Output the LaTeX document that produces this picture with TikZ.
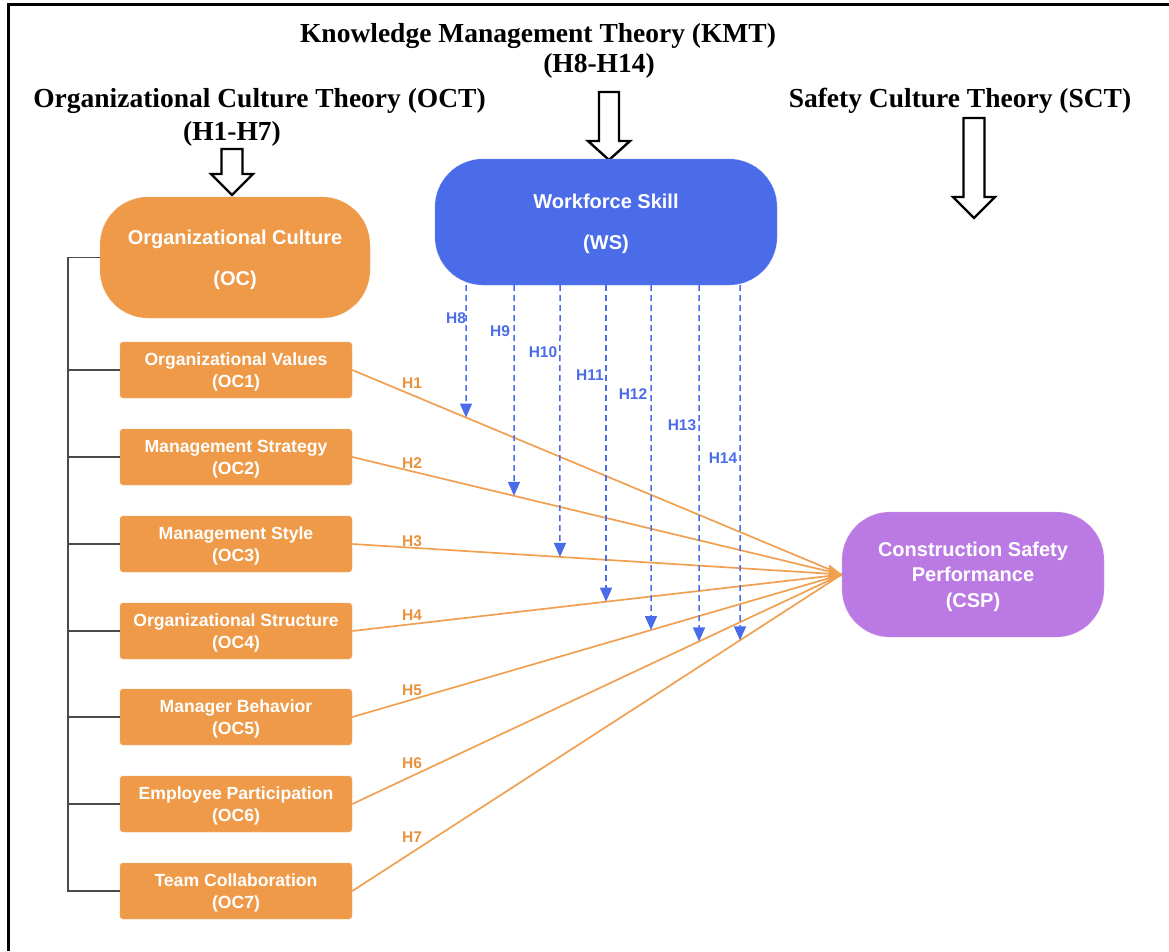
\documentclass[tikz,border=0pt]{standalone}
\usepackage{fontspec}
\setmainfont{Liberation Serif}
\newfontfamily\arialf{Liberation Sans}
\usetikzlibrary{arrows.meta,calc}
\definecolor{ocor}{HTML}{EE9A48}
\definecolor{wsblue}{HTML}{4A6CE9}
\definecolor{csppur}{HTML}{BB7AE3}
\definecolor{linor}{HTML}{F0A050}
\definecolor{hor}{HTML}{E8923E}
\definecolor{treegray}{HTML}{4A4A4A}
\begin{document}
\begin{tikzpicture}[x=1pt,y=-1pt,
  bignode/.style={rounded corners=48pt, fill=#1, draw=#1!70!white, densely dotted, line width=0.6pt,
    text=white, font={\arialf\bfseries\fontsize{20}{41}\selectfont}, align=center, inner sep=0pt, text depth=-7pt},
  smallbox/.style={rounded corners=3pt, fill=ocor, draw=ocor!70!white, densely dotted, line width=0.6pt,
    minimum width=232pt, minimum height=56pt, text=white, text depth=-3.5pt,
    font={\arialf\bfseries\fontsize{17.6}{22}\selectfont}, align=center, inner sep=0pt},
  titletxt/.style={font={\bfseries\fontsize{27.5}{32}\selectfont}, anchor=base, inner sep=0pt},
  hlabel/.style={text=hor, font={\arialf\bfseries\fontsize{15.5}{18}\selectfont}, inner sep=0pt},
  wlabel/.style={text=wsblue, font={\arialf\bfseries\fontsize{15.5}{18}\selectfont}, inner sep=0pt},
  hline/.style={draw=linor, line width=1.7pt},
  wline/.style={draw=wsblue, line width=1.5pt, dash pattern=on 6pt off 4pt, -{Triangle[length=14pt,width=12pt]}},
  treeline/.style={draw=treegray, line width=1.8pt},
  blockarrow/.style={draw=black, fill=white, line width=2.4pt, line join=miter}
]
\useasboundingbox (0,0) rectangle (1169,951);
% frame
\draw[line width=3pt] (8,951) -- (8,4) -- (1169,4);

% titles
\node[titletxt] (kmt1) at (538,42) {Knowledge Management Theory (KMT)};
\node[titletxt] (kmt2) at (599,72) {(H8-H14)};
\node[titletxt] (oct1) at (259.5,107) {Organizational Culture Theory (OCT)};
\node[titletxt] (oct2) at (232,140) {(H1-H7)};
\node[titletxt] (sct) at (960,107) {Safety Culture Theory (SCT)};

% block arrows
\draw[blockarrow] (221.5,149) -- (242.5,149) -- (242.5,174) -- (253,174) -- (232,195) -- (211,174) -- (221.5,174) -- cycle;
\draw[blockarrow] (599,92) -- (619,92) -- (619,141) -- (630,141) -- (609,160) -- (588,141) -- (599,141) -- cycle;
\draw[blockarrow] (963.5,118) -- (984.5,118) -- (984.5,197) -- (995,197) -- (974,218) -- (953,197) -- (963.5,197) -- cycle;

% main nodes
\node[bignode=ocor, minimum width=270pt, minimum height=121pt] (oc) at (235,257.5) {Organizational Culture\\(OC)};
\node[bignode=wsblue, minimum width=342pt, minimum height=126pt] (ws) at (606,222) {Workforce Skill\\(WS)};
\node[bignode=csppur, minimum width=262pt, minimum height=125pt, text depth=-9.5pt, font={\arialf\bfseries\fontsize{20}{25.5}\selectfont}] (csp) at (973,574.5) {Construction Safety\\Performance\\(CSP)};

% sub boxes
\node[smallbox] (oc1) at (236,370) {Organizational Values\\(OC1)};
\node[smallbox] (oc2) at (236,457) {Management Strategy\\(OC2)};
\node[smallbox] (oc3) at (236,544) {Management Style\\(OC3)};
\node[smallbox] (oc4) at (236,631) {Organizational Structure\\(OC4)};
\node[smallbox] (oc5) at (236,717) {Manager Behavior\\(OC5)};
\node[smallbox] (oc6) at (236,804) {Employee Participation\\(OC6)};
\node[smallbox] (oc7) at (236,891) {Team Collaboration\\(OC7)};

% tree
\coordinate (trunk) at (68,0);
\draw[treeline] (oc.west) -- (oc.west -| trunk) -- (oc7.west -| trunk) -- (oc7.west);
\foreach \k in {1,...,6} { \draw[treeline] (oc\k.west -| trunk) -- (oc\k.west); }

% orange hypothesis lines
\draw[hline] (oc1.east) -- (csp.west);
\draw[hline] (oc2.east) -- (csp.west);
\draw[hline, -{Triangle[length=13pt,width=18pt]}] (oc3.east) -- (csp.west);
\draw[hline] (oc4.east) -- (csp.west);
\draw[hline] (oc5.east) -- (csp.west);
\draw[hline] (oc6.east) -- (csp.west);
\draw[hline] (oc7.east) -- (csp.west);

\node[hlabel] (h1) at (412,383) {H1};
\node[hlabel] (h2) at (412,463) {H2};
\node[hlabel] (h3) at (412,541) {H3};
\node[hlabel] (h4) at (412,615) {H4};
\node[hlabel] (h5) at (412,690) {H5};
\node[hlabel] (h6) at (412,763) {H6};
\node[hlabel] (h7) at (412,837) {H7};

% blue moderating arrows
\foreach \x/\k [count=\i from 8] in {466/1,514/2,560/3,606/4,651/5,699/6,740/7} {
  \coordinate (s\i) at (\x,285);
  \coordinate (b\i) at (\x,950);
  \draw[wline] (s\i) -- (intersection cs: first line={(oc\k.east)--(csp.west)}, second line={(s\i)--(b\i)});
}
\node[wlabel] (h8) at (456,318) {H8};
\node[wlabel] (h9) at (500,331) {H9};
\node[wlabel] (h10) at (543,352) {H10};
\node[wlabel] (h11) at (590,375) {H11};
\node[wlabel] (h12) at (633,394) {H12};
\node[wlabel] (h13) at (682,425) {H13};
\node[wlabel] (h14) at (723,458) {H14};
\end{tikzpicture}
\end{document}
